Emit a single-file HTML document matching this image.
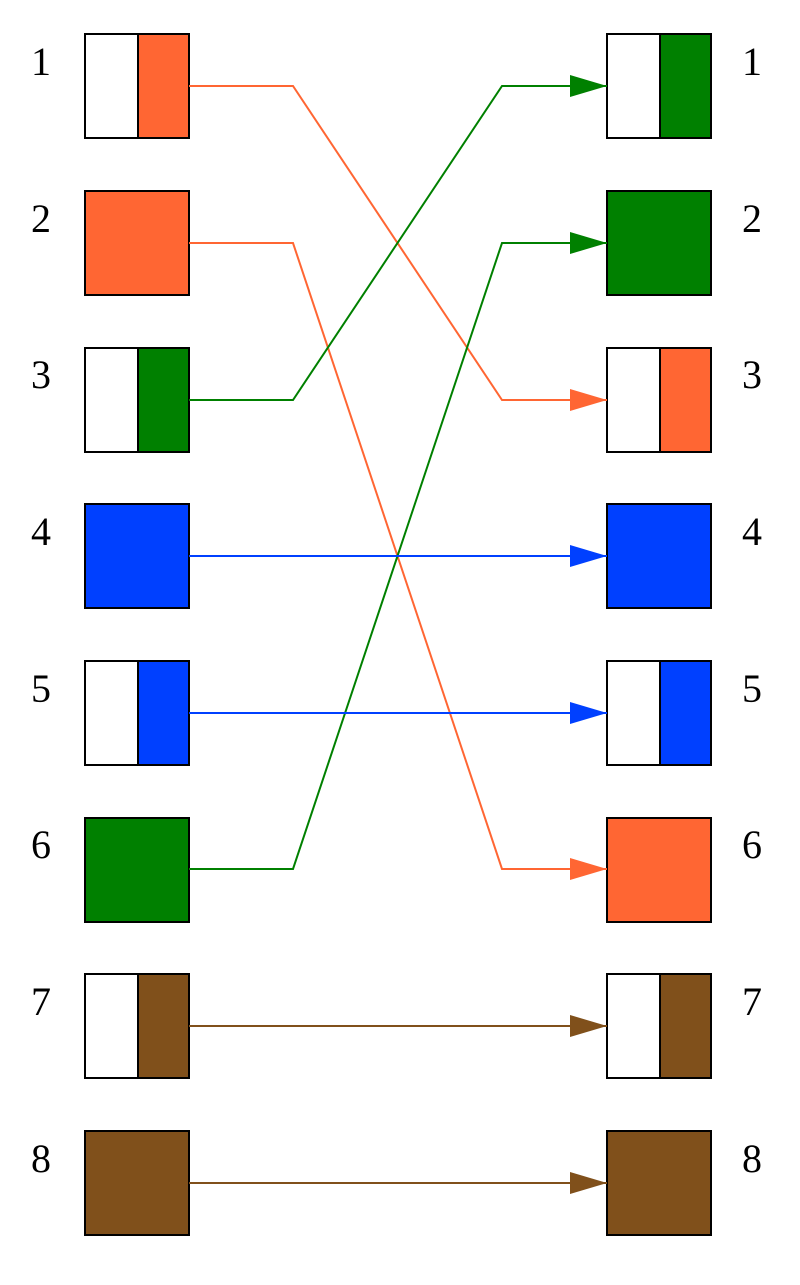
<!DOCTYPE html>
<html><head><meta charset="utf-8"><style>html,body{margin:0;padding:0;background:#fff}</style></head>
<body>
<svg width="800" height="1280" viewBox="0 0 800 1280" xmlns="http://www.w3.org/2000/svg" font-family="Liberation Serif, serif" font-size="40">
<defs>
<marker id="o" markerWidth="38" markerHeight="22" refX="37" refY="11" orient="auto" markerUnits="userSpaceOnUse"><path d="M0,0 L37,11 L0,22 Z" fill="#FF6633"/></marker>
<marker id="g" markerWidth="38" markerHeight="22" refX="37" refY="11" orient="auto" markerUnits="userSpaceOnUse"><path d="M0,0 L37,11 L0,22 Z" fill="#008000"/></marker>
<marker id="b" markerWidth="38" markerHeight="22" refX="37" refY="11" orient="auto" markerUnits="userSpaceOnUse"><path d="M0,0 L37,11 L0,22 Z" fill="#0040FF"/></marker>
<marker id="n" markerWidth="38" markerHeight="22" refX="37" refY="11" orient="auto" markerUnits="userSpaceOnUse"><path d="M0,0 L37,11 L0,22 Z" fill="#80501B"/></marker>
</defs>
<g stroke="#000" stroke-width="2">
<!-- left -->
<rect x="85" y="34" width="104" height="104" fill="#fff"/><rect x="138" y="34" width="51" height="104" fill="#FF6633"/>
<rect x="85" y="191" width="104" height="104" fill="#FF6633"/>
<rect x="85" y="348" width="104" height="104" fill="#fff"/><rect x="138" y="348" width="51" height="104" fill="#008000"/>
<rect x="85" y="504" width="104" height="104" fill="#0040FF"/>
<rect x="85" y="661" width="104" height="104" fill="#fff"/><rect x="138" y="661" width="51" height="104" fill="#0040FF"/>
<rect x="85" y="818" width="104" height="104" fill="#008000"/>
<rect x="85" y="974" width="104" height="104" fill="#fff"/><rect x="138" y="974" width="51" height="104" fill="#80501B"/>
<rect x="85" y="1131" width="104" height="104" fill="#80501B"/>
<!-- right -->
<rect x="607" y="34" width="104" height="104" fill="#fff"/><rect x="660" y="34" width="51" height="104" fill="#008000"/>
<rect x="607" y="191" width="104" height="104" fill="#008000"/>
<rect x="607" y="348" width="104" height="104" fill="#fff"/><rect x="660" y="348" width="51" height="104" fill="#FF6633"/>
<rect x="607" y="504" width="104" height="104" fill="#0040FF"/>
<rect x="607" y="661" width="104" height="104" fill="#fff"/><rect x="660" y="661" width="51" height="104" fill="#0040FF"/>
<rect x="607" y="818" width="104" height="104" fill="#FF6633"/>
<rect x="607" y="974" width="104" height="104" fill="#fff"/><rect x="660" y="974" width="51" height="104" fill="#80501B"/>
<rect x="607" y="1131" width="104" height="104" fill="#80501B"/>
</g>
<g fill="none" stroke-width="2">
<polyline points="189,86 293,86 502,400 607,400" stroke="#FF6633" marker-end="url(#o)"/>
<polyline points="189,243 293,243 502,869 607,869" stroke="#FF6633" marker-end="url(#o)"/>
<polyline points="189,400 293,400 502,86 607,86" stroke="#008000" marker-end="url(#g)"/>
<polyline points="189,869 293,869 502,243 607,243" stroke="#008000" marker-end="url(#g)"/>
<polyline points="189,556 607,556" stroke="#0040FF" marker-end="url(#b)"/>
<polyline points="189,713 607,713" stroke="#0040FF" marker-end="url(#b)"/>
<polyline points="189,1026 607,1026" stroke="#80501B" marker-end="url(#n)"/>
<polyline points="189,1183 607,1183" stroke="#80501B" marker-end="url(#n)"/>
</g>
<g text-anchor="middle" fill="#000">
<text x="41" y="75">1</text><text x="41" y="232">2</text><text x="41" y="388">3</text><text x="41" y="545">4</text><text x="41" y="702">5</text><text x="41" y="858">6</text><text x="41" y="1015">7</text><text x="41" y="1172">8</text>
<text x="752" y="75">1</text><text x="752" y="232">2</text><text x="752" y="388">3</text><text x="752" y="545">4</text><text x="752" y="702">5</text><text x="752" y="858">6</text><text x="752" y="1015">7</text><text x="752" y="1172">8</text>
</g>
</svg>
</body></html>
